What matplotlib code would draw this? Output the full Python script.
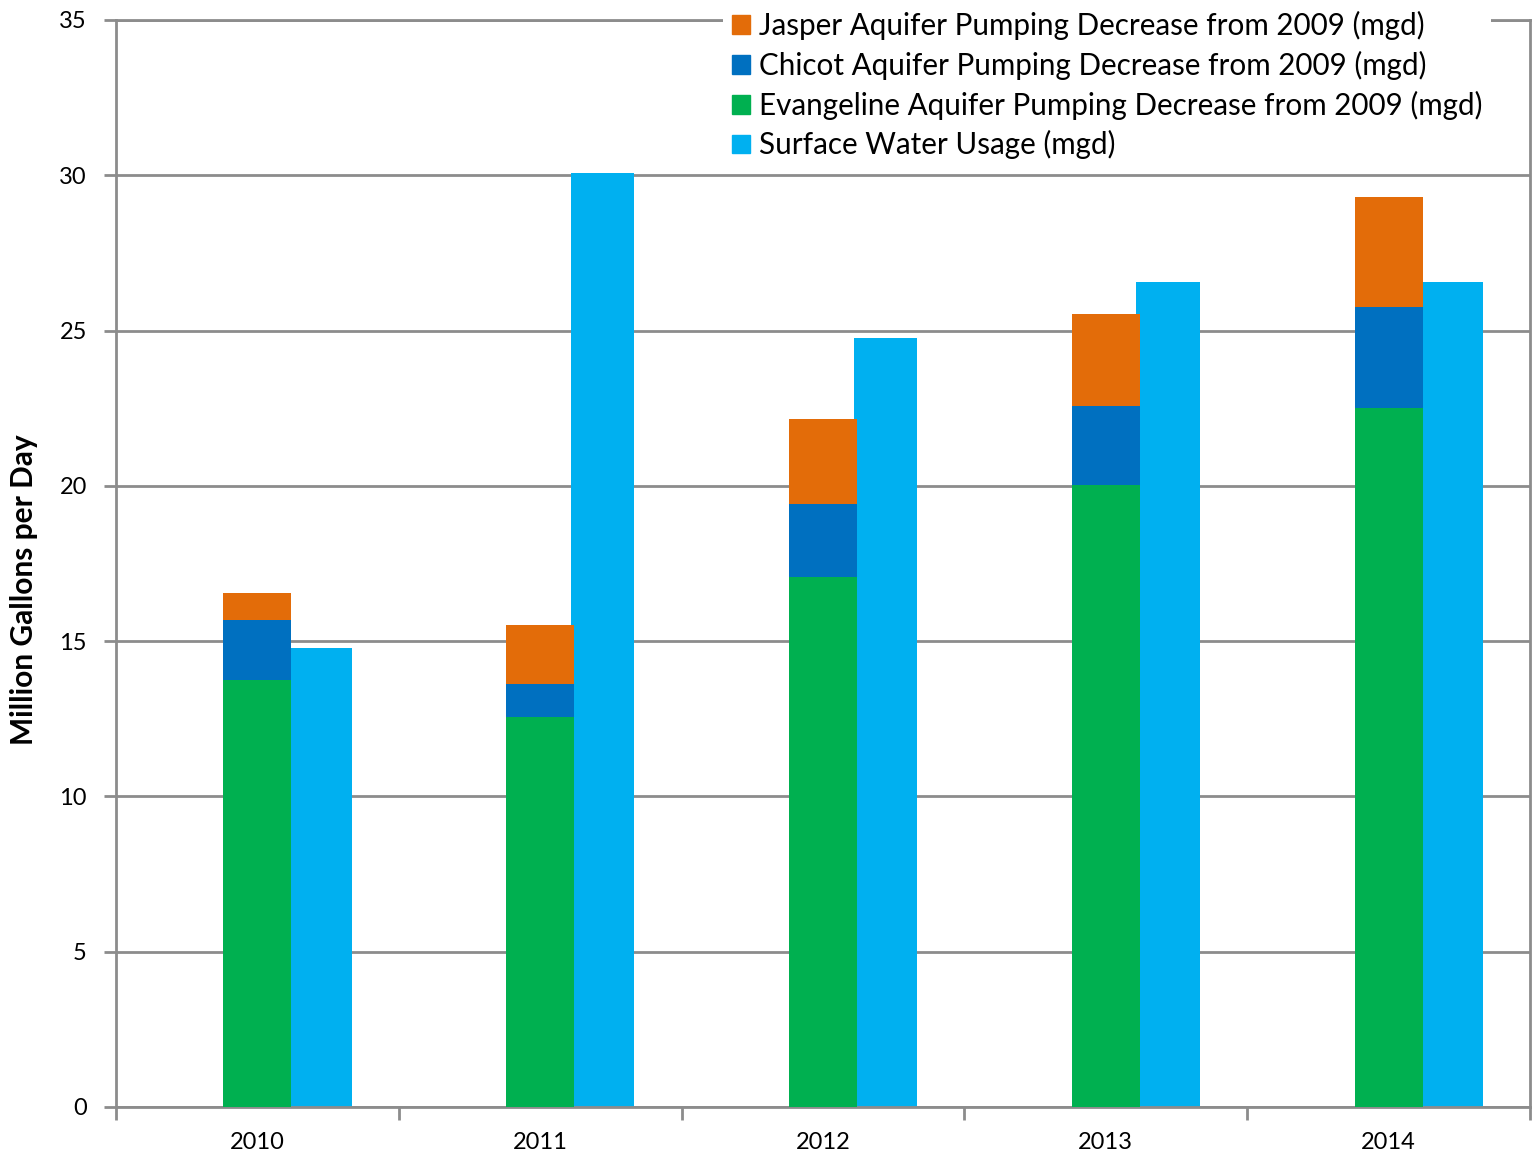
import numpy as np
from matplotlib import pyplot as plt
from matplotlib.patches import Patch

plt.rcParams['font.family'] = ['Lato', 'DejaVu Sans']

years = ['2010', '2011', '2012', '2013', '2014']
evangeline = [13.75, 12.56, 17.06, 20.03, 22.50]
chicot = [1.93, 1.06, 2.35, 2.54, 3.26]
jasper = [0.87, 1.90, 2.74, 2.96, 3.54]
surface = [14.78, 30.07, 24.76, 26.56, 26.56]

c_jasper = '#E36C09'
c_chicot = '#0070C0'
c_evang = '#00B050'
c_surface = '#00B0F0'
grid_c = '#8C8C8C'

fig = plt.figure(figsize=(15.4, 11.53), dpi=100)
ax = fig.add_axes([0.0753, 0.0399, 0.9182, 0.9428])

x = np.arange(len(years))
w_stack = 0.24
w_surf = 0.225

# surface water bar sits just right of the stacked aquifer bar
ax.bar(x + 0.221, surface, w_surf, color=c_surface, zorder=2)

bottom2 = np.array(evangeline) + np.array(chicot)
ax.bar(x, evangeline, w_stack, color=c_evang, zorder=3)
ax.bar(x, chicot, w_stack, bottom=evangeline, color=c_chicot, zorder=3)
ax.bar(x, jasper, w_stack, bottom=bottom2, color=c_jasper, zorder=3)

ax.set_xlim(-0.5, 4.5)
ax.set_ylim(0, 35)
ax.set_yticks(range(0, 36, 5))
ax.yaxis.grid(True, color=grid_c, linewidth=2, zorder=0)
ax.set_axisbelow(True)

ax.set_xticks(x)
ax.set_xticklabels(years)
ax.set_xticks(np.arange(-0.5, 5, 1), minor=True)
ax.tick_params(axis='x', which='major', length=0, pad=18, labelsize=17)
ax.tick_params(axis='x', which='minor', length=9, width=2, color=grid_c, direction='out')
ax.tick_params(axis='y', length=9, width=2, color=grid_c, labelsize=17, pad=12)

for s in ax.spines.values():
    s.set_color(grid_c)
    s.set_linewidth(2)

ax.set_ylabel('Million Gallons per Day', fontsize=21.5, fontweight='bold')
ax.yaxis.set_label_coords(-0.055, 0.4756)

handles = [Patch(color=c_jasper), Patch(color=c_chicot),
           Patch(color=c_evang), Patch(color=c_surface)]
labels = ['Jasper Aquifer Pumping Decrease from 2009 (mgd)',
          'Chicot Aquifer Pumping Decrease from 2009 (mgd)',
          'Evangeline Aquifer Pumping Decrease from 2009 (mgd)',
          'Surface Water Usage (mgd)']
leg = ax.legend(handles, labels, loc='upper right', bbox_to_anchor=(0.983, 1.03),
                fontsize=21.3, frameon=True, framealpha=1, edgecolor='none',
                facecolor='white', handlelength=0.6, handleheight=0.6,
                handletextpad=0.3, labelspacing=0.36, borderpad=0.3)
leg.set_zorder(5)

plt.savefig('out.png', dpi=100)
